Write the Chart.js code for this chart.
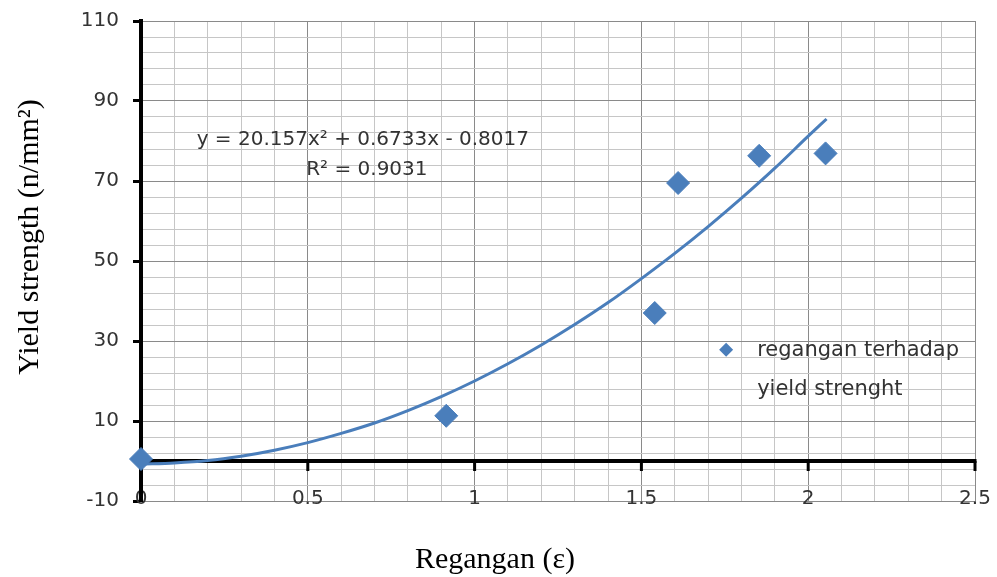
<!DOCTYPE html>
<html><head><meta charset="utf-8">
<script src="https://cdn.jsdelivr.net/npm/chart.js@4.4.1/dist/chart.umd.min.js"></script>
<style>html,body{margin:0;padding:0;background:#fff}</style>
</head><body>
<canvas id="c" width="997" height="577" style="display:block;width:997px;height:577px"></canvas>
<script>
// ---- data ----
const strainValues = [0, 0.915, 1.54, 1.61, 1.853, 2.052];
const yieldValues  = [0.5, 11.3, 37.0, 69.5, 76.3, 76.9];
const trendX = [0, 0.1, 0.2, 0.3, 0.4, 0.5, 0.6, 0.7, 0.8, 0.9, 1.0, 1.1, 1.2, 1.3, 1.4, 1.5, 1.6, 1.7, 1.8, 1.9, 2.0, 2.055];
const trendY = [-0.8, -0.5, 0.1, 1.2, 2.7, 4.6, 6.9, 9.5, 12.6, 16.1, 20.0, 24.3, 29.0, 34.1, 39.6, 45.6, 51.9, 58.6, 65.7, 73.2, 81.2, 85.5];
const xTickLabels = ['0', '0.5', '1', '1.5', '2', '2.5'];
const yTickLabels = ['-10', '10', '30', '50', '70', '90', '110'];
const seriesName = 'regangan terhadap yield strenght';
const legendLines = ['regangan terhadap', 'yield strenght'];
const equationLines = ['y = 20.157x\u00B2 + 0.6733x - 0.8017', 'R\u00B2 = 0.9031'];
const xTitle = 'Regangan (\u03B5)';
const yTitle = 'Yield strength (n/mm\u00B2)';

const BLUE = '#4A7EBB';
const MAJOR = '#8a8a8a';
const MINOR = '#c6c6c6';
const SANS = "'DejaVu Sans', sans-serif";
const LABEL_FONT = {family: SANS, size: 20};
const TEXT = '#333333';

const xMajor = xTickLabels.map(Number);
const yMajor = yTickLabels.map(Number);
const isXMajor = v => xMajor.some(m => Math.abs(m - v) < 1e-6);
const isYMajor = v => yMajor.some(m => Math.abs(m - v) < 1e-6);

const decor = {
  id: 'decor',
  beforeDatasetsDraw(chart) {
    const {ctx, chartArea: a, scales: {x, y}} = chart;
    const y0 = y.getPixelForValue(0);
    ctx.save();
    ctx.strokeStyle = '#000';
    ctx.lineWidth = 4;
    ctx.beginPath(); ctx.moveTo(a.left, y0); ctx.lineTo(a.right + 1.5, y0); ctx.stroke();
    ctx.lineWidth = 3;
    xMajor.forEach(v => {
      if (v === 0) return;
      const px = x.getPixelForValue(v);
      ctx.beginPath(); ctx.moveTo(px, y0); ctx.lineTo(px, y0 + 10); ctx.stroke();
    });
    ctx.restore();
  },
  afterDraw(chart) {
    const {ctx, scales: {x, y}} = chart;
    ctx.save();
    // trendline equation
    ctx.fillStyle = TEXT;
    ctx.font = "20px " + SANS;
    ctx.textAlign = 'center';
    ctx.textBaseline = 'middle';
    const ex = x.getPixelForValue(0.665);
    ctx.fillText(equationLines[0], ex, y.getPixelForValue(80.3));
    ctx.fillText(equationLines[1], ex + 4, y.getPixelForValue(72.7));
    // legend
    const lx = x.getPixelForValue(1.754), ly = y.getPixelForValue(27.8);
    ctx.fillStyle = BLUE;
    ctx.beginPath();
    ctx.moveTo(lx - 7, ly); ctx.lineTo(lx, ly - 7); ctx.lineTo(lx + 7, ly); ctx.lineTo(lx, ly + 7);
    ctx.closePath(); ctx.fill();
    ctx.fillStyle = TEXT;
    ctx.font = "21px " + SANS;
    ctx.textAlign = 'left';
    ctx.fillText(legendLines[0], lx + 31, ly + 1);
    ctx.fillText(legendLines[1], lx + 31, ly + 40);
    // axis titles
    ctx.fillStyle = '#000';
    ctx.font = "30px 'Liberation Serif', 'Times New Roman', serif";
    ctx.textAlign = 'center';
    ctx.fillText(xTitle, 495, 560);
    ctx.translate(30, 237);
    ctx.rotate(-Math.PI / 2);
    ctx.fillText(yTitle, 0, 0);
    ctx.restore();
  }
};

new Chart(document.getElementById('c'), {
  data: {
    datasets: [
      {
        type: 'scatter',
        label: seriesName,
        data: strainValues.map((v, i) => ({x: v, y: yieldValues[i]})),
        pointStyle: 'rectRot',
        pointRadius: 11.5,
        pointHoverRadius: 11.5,
        backgroundColor: BLUE,
        borderColor: BLUE,
        borderWidth: 1,
        clip: false,
        order: 1
      },
      {
        type: 'line',
        label: 'Poly. (' + seriesName + ')',
        data: trendX.map((v, i) => ({x: v, y: trendY[i]})),
        borderColor: BLUE,
        borderWidth: 3,
        pointRadius: 0,
        cubicInterpolationMode: 'monotone',
        fill: false,
        clip: false,
        order: 2
      }
    ]
  },
  options: {
    responsive: false,
    animation: false,
    devicePixelRatio: 1,
    layout: {padding: {top: 21, right: 22, bottom: 0, left: 0}},
    plugins: {legend: {display: false}, tooltip: {enabled: false}, title: {display: false}},
    scales: {
      x: {
        type: 'linear', position: 'bottom', min: 0, max: 2.5,
        afterBuildTicks: s => {
          const t = [];
          for (let i = 0; i <= 25; i++) t.push({value: i / 10});
          s.ticks = t;
        },
        afterFit: s => { s.height = 76; s.paddingLeft = 0; s.paddingRight = 0; s.paddingTop = 0; s.paddingBottom = 0; },
        ticks: {
          autoSkip: false, maxRotation: 0, mirror: true, padding: -10,
          color: TEXT, font: LABEL_FONT,
          callback: v => { const i = xMajor.findIndex(m => Math.abs(m - v) < 1e-6); return i >= 0 ? xTickLabels[i] : ''; }
        },
        grid: {
          color: c => (c.tick && isXMajor(c.tick.value)) ? MAJOR : MINOR,
          lineWidth: 1, drawTicks: false, tickLength: 0
        },
        border: {display: true, color: MAJOR, width: 1}
      },
      y: {
        type: 'linear', position: 'left', min: -10, max: 110,
        afterBuildTicks: s => {
          const t = [];
          for (let v = -10; v <= 110; v += 4) t.push({value: v});
          s.ticks = t;
        },
        afterFit: s => { s.width = 141; s.paddingTop = 0; s.paddingBottom = 0; s.paddingLeft = 0; s.paddingRight = 0; },
        ticks: {
          autoSkip: false, padding: 14,
          color: TEXT, font: LABEL_FONT,
          callback: v => { const i = yMajor.findIndex(m => Math.abs(m - v) < 1e-6); return i >= 0 ? yTickLabels[i] : ''; }
        },
        grid: {
          color: c => (c.tick && isYMajor(c.tick.value)) ? MAJOR : MINOR,
          lineWidth: 1, drawTicks: true, tickLength: 8,
          tickColor: c => (c.tick && isYMajor(c.tick.value)) ? '#000' : 'rgba(0,0,0,0)',
          tickWidth: 3
        },
        border: {display: true, color: '#000', width: 4}
      }
    }
  },
  plugins: [decor]
});
</script>
</body></html>
